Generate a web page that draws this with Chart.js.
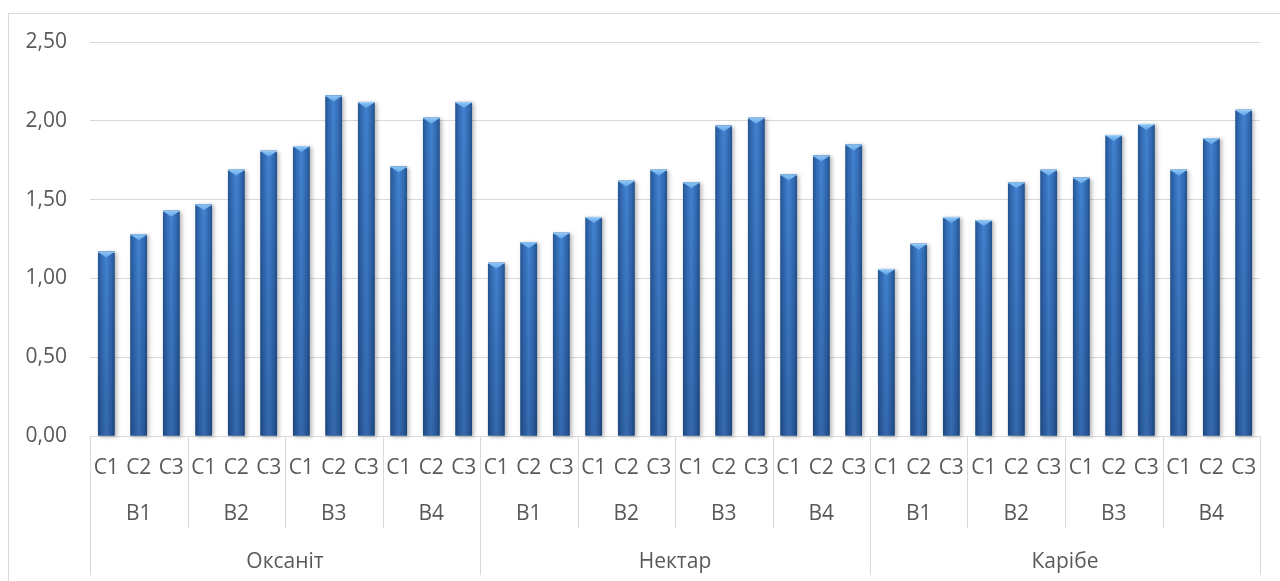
<!DOCTYPE html>
<html>
<head>
<meta charset="utf-8">
<script src="https://cdn.jsdelivr.net/npm/chart.js@4/dist/chart.umd.min.js"></script>
<style>
  html, body { margin: 0; padding: 0; background: #ffffff; }
  #wrap { width: 1280px; height: 581px; }
</style>
</head>
<body>
<div id="wrap"><canvas id="c" width="1280" height="581"></canvas></div>
<script>
// ---- data ----
const varieties = ['Оксаніт', 'Нектар', 'Карібе'];
const bLabels = ['B1', 'B2', 'B3', 'B4'];
const cLabels = ['C1', 'C2', 'C3'];
const oksanit = [1.17, 1.28, 1.43, 1.47, 1.69, 1.81, 1.84, 2.16, 2.12, 1.71, 2.02, 2.12];
const nektar  = [1.10, 1.23, 1.29, 1.39, 1.62, 1.69, 1.61, 1.97, 2.02, 1.66, 1.78, 1.85];
const karibe  = [1.06, 1.22, 1.39, 1.37, 1.61, 1.69, 1.64, 1.91, 1.98, 1.69, 1.89, 2.07];
const yTicks = [0, 0.5, 1, 1.5, 2, 2.5];

// build axis label arrays
const level1 = [], level2 = [];
varieties.forEach(() => bLabels.forEach(b => { level2.push(b); cLabels.forEach(c => level1.push(c)); }));
const values = oksanit.concat(nektar, karibe);

const TEXT = '#595959';
const LINE = '#d9d9d9';
const FONT = "'Open Sans', 'Noto Sans', sans-serif";
const FSIZE = 21;

const framePlugin = {
  id: 'frame',
  beforeDraw(chart) {
    const ctx = chart.ctx;
    ctx.save();
    ctx.strokeStyle = LINE;
    ctx.lineWidth = 1;
    ctx.strokeRect(8.5, 13.5, 1300, 620);
    ctx.restore();
  }
};

const barStylePlugin = {
  id: 'barStyle',
  afterDatasetsDraw(chart) {
    const ctx = chart.ctx;
    const meta = chart.getDatasetMeta(0);
    meta.data.forEach(el => {
      const w = el.width, l = el.x - w / 2, r = el.x + w / 2, t = el.y, b = el.base;
      ctx.save();
      ctx.shadowColor = 'rgba(0,0,0,0.28)';
      ctx.shadowBlur = 4;
      ctx.shadowOffsetX = 2;
      ctx.shadowOffsetY = 1;
      const hg = ctx.createLinearGradient(l, 0, r, 0);
      hg.addColorStop(0, '#25558f');
      hg.addColorStop(0.18, '#3169b1');
      hg.addColorStop(0.5, '#4283d0');
      hg.addColorStop(0.82, '#3169b1');
      hg.addColorStop(1, '#23518b');
      ctx.fillStyle = hg;
      ctx.fillRect(l, t, w, b - t);
      ctx.shadowColor = 'transparent';
      const vg = ctx.createLinearGradient(0, t, 0, b);
      vg.addColorStop(0, 'rgba(0,0,40,0)');
      vg.addColorStop(1, 'rgba(0,10,40,0.2)');
      ctx.fillStyle = vg;
      ctx.fillRect(l, t, w, b - t);
      const capH = Math.min(6, (b - t) / 2);
      ctx.fillStyle = '#9ccff8';
      ctx.fillRect(l, t, w, 1.2);
      const cg = ctx.createLinearGradient(0, t, 0, t + capH);
      cg.addColorStop(0, '#8fc8f7');
      cg.addColorStop(1, '#5fa3e6');
      ctx.fillStyle = cg;
      ctx.beginPath();
      ctx.moveTo(l + 1, t + 1);
      ctx.lineTo(r - 1, t + 1);
      ctx.lineTo(el.x, t + capH);
      ctx.closePath();
      ctx.fill();
      ctx.restore();
    });
  }
};

const dividerPlugin = {
  id: 'dividers',
  afterDraw(chart) {
    const ctx = chart.ctx;
    const x = chart.scales.x, x2 = chart.scales.x2, x3 = chart.scales.x3;
    const n = level1.length;
    const half = (x.getPixelForValue(1) - x.getPixelForValue(0)) / 2;
    ctx.save();
    ctx.strokeStyle = LINE;
    ctx.lineWidth = 1;
    for (let i = 0; i <= n; i += 3) {
      const px = Math.round((i < n ? x.getPixelForValue(i) - half : x.getPixelForValue(n - 1) + half)) + 0.5;
      const bottom = (i % 12 === 0) ? x3.bottom : x2.bottom;
      ctx.beginPath();
      ctx.moveTo(px, x.top);
      ctx.lineTo(px, bottom);
      ctx.stroke();
    }
    ctx.restore();
  }
};

new Chart(document.getElementById('c'), {
  type: 'bar',
  data: {
    labels: level1,
    datasets: [{
      data: values,
      backgroundColor: '#3169b1',
      borderWidth: 0,
      barPercentage: 0.51,
      categoryPercentage: 1.0,
      xAxisID: 'x',
      yAxisID: 'y'
    }]
  },
  options: {
    responsive: false,
    animation: false,
    devicePixelRatio: 1,
    layout: { padding: { top: 42, right: 20, bottom: 6, left: 0 } },
    plugins: { legend: { display: false }, tooltip: { enabled: false } },
    scales: {
      y: {
        min: 0, max: 2.5,
        afterFit: s => { s.width = 90; },
        afterBuildTicks: s => { s.ticks = yTicks.map(v => ({ value: v })); },
        ticks: {
          padding: 23,
          color: TEXT,
          font: { family: FONT, size: FSIZE },
          callback: v => Number(v).toFixed(2).replace('.', ',')
        },
        grid: { color: LINE, lineWidth: 1, drawTicks: false },
        border: { display: false }
      },
      x: {
        type: 'category',
        position: 'bottom',
        weight: 0,
        offset: true,
        afterFit: s => { s.height = 46; },
        ticks: { padding: 11, color: TEXT, font: { family: FONT, size: FSIZE }, maxRotation: 0, autoSkip: false },
        grid: { display: false },
        border: { display: true, color: LINE, width: 1 }
      },
      x2: {
        type: 'category',
        position: 'bottom',
        weight: 1,
        offset: true,
        labels: level2,
        afterFit: s => { s.height = 46; },
        ticks: { padding: 11, color: TEXT, font: { family: FONT, size: FSIZE }, maxRotation: 0, autoSkip: false },
        grid: { display: false },
        border: { display: false }
      },
      x3: {
        type: 'category',
        position: 'bottom',
        weight: 2,
        offset: true,
        labels: varieties,
        afterFit: s => { s.height = 47; },
        ticks: { padding: 13, color: TEXT, font: { family: FONT, size: FSIZE }, maxRotation: 0, autoSkip: false },
        grid: { display: false },
        border: { display: false }
      }
    }
  },
  plugins: [framePlugin, barStylePlugin, dividerPlugin]
});
</script>
</body>
</html>
